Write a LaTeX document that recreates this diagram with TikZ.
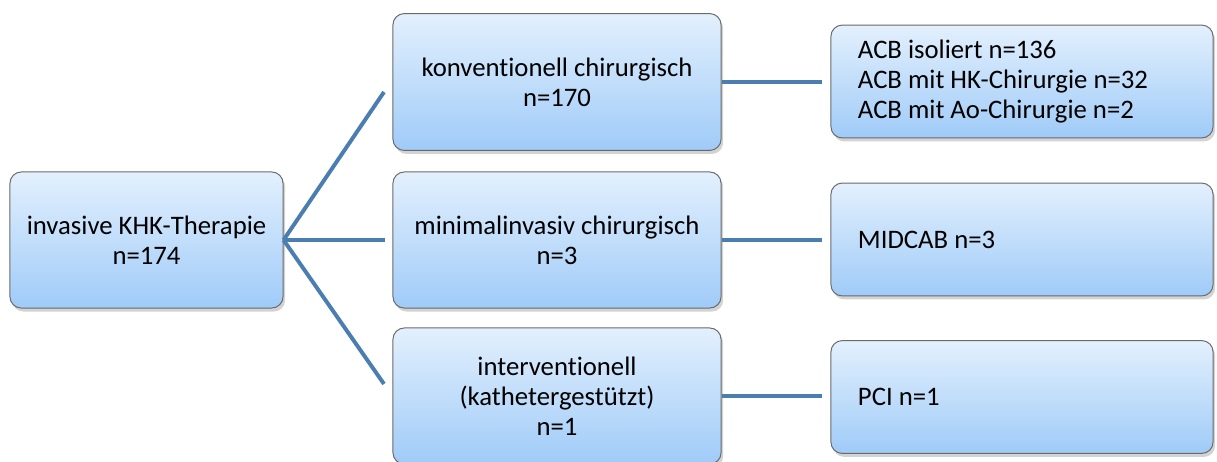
\documentclass[tikz,border=0pt]{standalone}
\usepackage{fontspec}
\setmainfont{Carlito}[Ligatures=NoCommon]
\usetikzlibrary{shadows,positioning}

\definecolor{boxtop}{HTML}{E3F0FD}
\definecolor{boxbot}{HTML}{9FCBF8}
\definecolor{boxline}{HTML}{6A6A6A}
\definecolor{linkblue}{HTML}{4A7EB0}

\begin{document}
\begin{tikzpicture}[
    x=0.025cm, y=-0.025cm,
    box/.style={draw=boxline, line width=0.7pt, rounded corners=8pt, top color=boxtop, bottom color=boxbot,
        align=center, font=\fontsize{19}{21.3}\selectfont, inner sep=2pt,
        drop shadow={opacity=0.35, shadow xshift=1.5pt, shadow yshift=-2.5pt}},
    midbox/.style={box, minimum width=8.2cm, minimum height=3.42cm},
    leafbox/.style={box, minimum width=9.55cm, minimum height=2.82cm, text width=8.2cm, align=flush left, inner xsep=0.675cm},
    link/.style={draw=linkblue, line width=2.8pt}
]
\useasboundingbox (0,0) rectangle (1217,461);

\node[box, minimum width=6.825cm, minimum height=3.4cm] (root) at (146.5,240) {invasive KHK-Therapie\\n=174};

\node[midbox] (konv) at (557,82) {konventionell chirurgisch\\n=170};
\node[midbox, minimum height=3.4cm] (mini) at (557,240) {minimalinvasiv chirurgisch\\n=3};
\node[midbox, minimum height=3.4cm] (inter) at (557,396) {interventionell\\(kathetergestützt)\\n=1};

\node[leafbox] (acb) at (1022,81.5) {ACB isoliert n=136\\ACB mit HK-Chirurgie n=32\\ACB mit Ao-Chirurgie n=2};
\node[leafbox] (midcab) at (1022,239.5) {MIDCAB n=3};
\node[leafbox] (pci) at (1022,397) {PCI n=1};

\coordinate (kend) at (384,92);
\coordinate (mend) at (385,240);
\coordinate (iend) at (384,384);

\draw[link] (root.east) -- (kend);
\draw[link] (root.east) -- (mend);
\draw[link] (root.east) -- (iend);

\draw[link, shorten >=5.7pt] (konv.east) -- (konv.east -| acb.west);
\draw[link, shorten >=5.7pt] (mini.east) -- (mini.east -| midcab.west);
\draw[link, shorten >=5.7pt] (inter.east) -- (inter.east -| pci.west);
\end{tikzpicture}
\end{document}
